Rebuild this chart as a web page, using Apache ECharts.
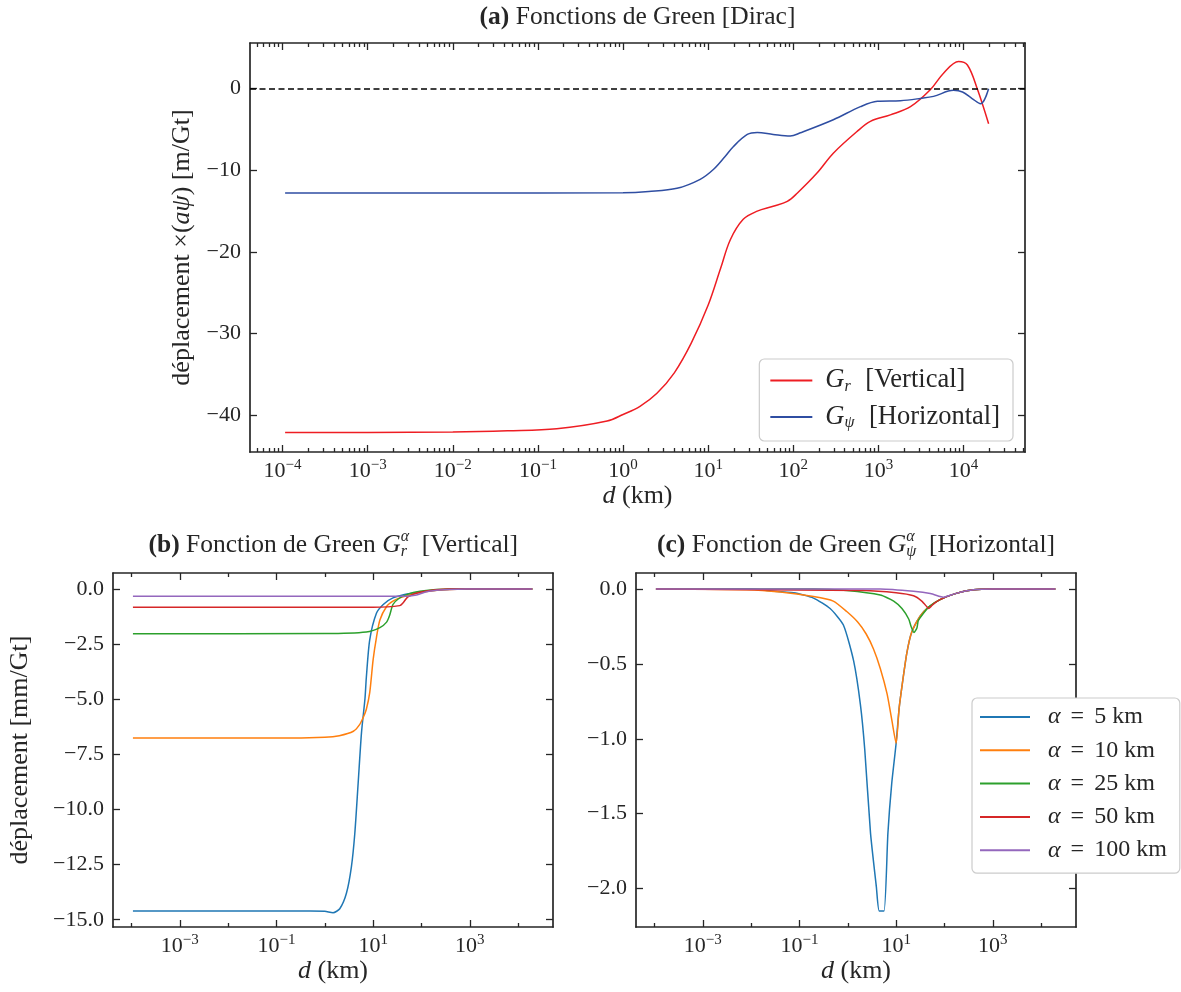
<!DOCTYPE html>
<html><head><meta charset="utf-8">
<script src="https://cdn.jsdelivr.net/npm/echarts@6/dist/echarts.min.js"></script>
<style>html,body{margin:0;padding:0;background:#fff}#c{width:1181px;height:992px}</style>
</head><body><div id="c"></div>
<script>
// ---------- DATA ----------
// Panel (a): Dirac Green functions, d in km
const aRedD  = [1.07e-4, 1e-3, 1e-2, 0.044, 0.166, 0.65, 1.0, 1.58, 2.5, 4.0, 6.3, 10, 14, 18.2, 25.8, 37.7, 58, 85, 111, 191, 295, 566, 805, 1380, 2380, 4090, 5820, 8730, 11100, 14600, 19700];
const aRedV  = [-42.1, -42.1, -42.05, -41.9, -41.65, -40.7, -39.9, -38.9, -37.3, -34.8, -31.2, -26.5, -22, -18.5, -16, -15.0, -14.4, -13.8, -12.8, -10.3, -7.9, -5.2, -4.0, -3.2, -2.2, -0.1, 1.9, 3.34, 2.9, -0.1, -4.3];
const aBlueD = [1.07e-4, 1e-2, 1, 2, 4.3, 8.05, 11.5, 15.8, 19.7, 28.8, 37.7, 58, 92, 121, 295, 614, 973, 1815, 3120, 4440, 7620, 9730, 12600, 15850, 19700];
const aBlueV = [-12.78, -12.78, -12.75, -12.6, -12.2, -11.1, -9.9, -8.3, -7.1, -5.6, -5.35, -5.6, -5.8, -5.4, -3.8, -2.2, -1.55, -1.47, -1.19, -0.94, -0.2, -0.4, -1.2, -1.84, 0];

// Panel (b): G_r^alpha
const b5D   = [1.07e-4, 1e-2, 0.5, 1.0, 1.48, 2.04, 2.8, 3.55, 4.17, 4.9, 5.75, 6.76, 7.24, 8.5, 11.7, 16.2, 25.7, 57.5, 174, 851, 19700];
const b5V   = [-14.6, -14.6, -14.6, -14.62, -14.68, -14.5, -13.8, -12.6, -11.1, -8.8, -6.5, -5.0, -4.0, -2.3, -1.1, -0.7, -0.4, -0.2, -0.06, 0, 0];
const b10D  = [1.07e-4, 0.1, 1, 2, 3.9, 5.25, 6.3, 7.24, 8.5, 10, 11.7, 13.8, 19, 25.7, 35.5, 93, 316, 1000, 19700];
const b10V  = [-6.76, -6.76, -6.72, -6.65, -6.45, -6.15, -5.8, -5.45, -4.7, -3.2, -2.2, -1.4, -0.79, -0.55, -0.4, -0.15, -0.03, 0, 0];
const b25D  = [1.07e-4, 1, 7.24, 13.8, 19, 21.9, 25.7, 33, 49, 93, 389, 19700];
const b25V  = [-2.03, -2.02, -1.95, -1.75, -1.5, -1.2, -0.7, -0.45, -0.25, -0.1, 0, 0];
const b50D  = [1.07e-4, 10, 35.5, 41.7, 52.5, 93, 389, 19700];
const b50V  = [-0.82, -0.82, -0.75, -0.62, -0.35, -0.14, 0, 0];
const b100D = [1.07e-4, 50, 79, 117, 174, 389, 851, 19700];
const b100V = [-0.33, -0.32, -0.27, -0.14, -0.07, -0.02, 0, 0];

// Panel (c): G_psi^alpha
const c5D   = [1.07e-4, 0.01, 0.021, 0.076, 0.195, 0.43, 0.81, 1.32, 1.82, 2.24, 2.95, 3.9, 4.47, 5.62, 6.76, 8.1, 10, 11.5, 13.2, 16.6, 20.9, 31.6, 46.8, 81, 182, 398, 1000, 19700];
const c5V   = [0, 0, -0.01, -0.025, -0.06, -0.13, -0.24, -0.48, -0.77, -1.07, -1.63, -1.99, -2.15, -2.15, -1.63, -1.3, -1.03, -0.8, -0.65, -0.43, -0.29, -0.18, -0.12, -0.07, -0.027, -0.005, 0, 0];
const c10D  = [1.07e-4, 0.008, 0.04, 0.195, 0.5, 0.95, 1.6, 2.4, 3.4, 4.7, 6.5, 8.1, 10, 11.5, 13.2, 16.6, 20.9, 31.6, 46.8, 81, 182, 398, 1000, 19700];
const c10V  = [0, -0.005, -0.02, -0.05, -0.08, -0.15, -0.22, -0.3, -0.4, -0.53, -0.7, -0.87, -1.03, -0.8, -0.65, -0.43, -0.29, -0.18, -0.12, -0.07, -0.027, -0.005, 0, 0];
const c25D  = [1.07e-4, 0.2, 0.95, 4.7, 8.9, 13.2, 18.2, 20.4, 23.4, 26.9, 28.8, 37, 46.8, 81, 182, 398, 1000, 19700];
const c25V  = [0, 0, -0.01, -0.04, -0.08, -0.13, -0.2, -0.25, -0.29, -0.26, -0.21, -0.16, -0.12, -0.07, -0.027, -0.005, 0, 0];
const c50D  = [1.07e-4, 2.1, 10, 22.9, 33.9, 43.7, 46.8, 55, 64.6, 81, 182, 398, 1000, 19700];
const c50V  = [0, -0.01, -0.025, -0.045, -0.08, -0.12, -0.13, -0.11, -0.09, -0.07, -0.027, -0.005, 0, 0];
const c100D = [1.07e-4, 4.7, 22.9, 51, 81, 95.5, 120, 182, 398, 1000, 19700];
const c100V = [0, 0, -0.015, -0.03, -0.05, -0.055, -0.045, -0.027, -0.005, 0, 0];

// Tick values
const aMajorX = [1e-4, 1e-3, 1e-2, 1e-1, 1, 10, 100, 1e3, 1e4];
const bcMajorX = [1e-3, 1e-1, 10, 1e3];
const bcMinorX = [1e-4, 1e-2, 1, 100, 1e4];
const aYTicks = [0, -10, -20, -30, -40];
const bYTicks = [0, -2.5, -5, -7.5, -10, -12.5, -15];
const cYTicks = [0, -0.5, -1, -1.5, -2];

const alphaLabels = ['5', '10', '25', '50', '100'];
const tab10 = ['#1f77b4', '#ff7f0e', '#2ca02c', '#d62728', '#9467bd'];

// ---------- STYLE ----------
const FONT = '"Liberation Serif", "DejaVu Serif", serif';
const TXT = '#262626';
const SPINE = '#262626';
const FS = 22;      // tick labels
const FN = 26;      // axis names
const FT = 25.5;    // titles

// minor ticks for panel (a): 2..9 x 10^k (axis decoration only)
const aMinorX = [];
for (let k = -5; k <= 4; k++) for (let m = 2; m <= 9; m++) aMinorX.push(+(m + 'e' + k));

const X_MIN = Math.pow(10, -4.383);
const X_MAX = Math.pow(10, 4.722);

function zip(d, v) { return d.map((x, i) => [x, v[i]]); }
function expFmt(v) {
  const e = Math.round(Math.log10(v));
  return '{b|10}{s|' + (e < 0 ? '\u2212' + (-e) : '' + e) + '}';
}
const expRich = {
  b: { fontFamily: FONT, fontSize: FS, lineHeight: 26, color: TXT },
  s: { fontFamily: FONT, fontSize: 15, lineHeight: 15, verticalAlign: 'top', color: TXT }
};
const nameRich = {
  i: { fontFamily: FONT, fontSize: FN, fontStyle: 'italic', color: TXT }
};

function xAxisDef(grid, pos, major, ticks, showLabel, name, nameGap) {
  return {
    type: 'log', logBase: 10, gridIndex: grid, position: pos, min: X_MIN, max: X_MAX,
    axisLine: { show: major, onZero: false, lineStyle: { color: SPINE, width: 1.7 } },
    axisTick: { show: true, inside: true, length: major ? 7 : 4, customValues: ticks, lineStyle: { color: SPINE, width: 1.3 } },
    axisLabel: showLabel ? { show: true, customValues: ticks, formatter: expFmt, margin: 6, color: TXT, fontFamily: FONT, fontSize: FS, rich: expRich, showMinLabel: true, showMaxLabel: true } : { show: false },
    splitLine: { show: false }, minorTick: { show: false }, minorSplitLine: { show: false },
    name: name || '', nameLocation: 'middle', nameGap: nameGap || 30,
    nameTextStyle: { fontFamily: FONT, fontSize: FN, color: TXT, rich: nameRich }
  };
}
function yAxisDef(grid, pos, min, max, ticks, fmt, name, nameGap) {
  return {
    type: 'value', gridIndex: grid, position: pos, min: min, max: max,
    axisLine: { show: true, onZero: false, lineStyle: { color: SPINE, width: 1.7 } },
    axisTick: { show: true, inside: true, length: 7, customValues: ticks, lineStyle: { color: SPINE, width: 1.3 } },
    axisLabel: fmt ? { show: true, customValues: ticks, formatter: fmt, margin: 9, color: TXT, fontFamily: FONT, fontSize: FS } : { show: false },
    splitLine: { show: false },
    name: name || '', nameLocation: 'middle', nameGap: nameGap || 50, nameRotate: 90,
    nameTextStyle: { fontFamily: FONT, fontSize: FN, color: TXT, rich: nameRich }
  };
}
const minus = s => s.replace('-', '\u2212');
const fmtA = v => minus(String(v));
const fmtB = v => minus(v.toFixed(1));

function line(name, d, v, xi, yi, color, smooth) {
  return {
    type: 'line', name: name, xAxisIndex: xi, yAxisIndex: yi, data: zip(d, v),
    symbol: 'none', showSymbol: false, smooth: smooth, animation: false,
    lineStyle: { color: color, width: 1.5 }, itemStyle: { color: color }
  };
}

const series = [
  Object.assign(line('Gr', aRedD, aRedV, 0, 0, '#ee1d23', 0.35), {
    markLine: { silent: true, symbol: ['none', 'none'], label: { show: false },
      lineStyle: { color: '#000', type: [6, 3.5], width: 1.5 }, data: [{ yAxis: 0 }], animation: false }
  }),
  line('Gpsi', aBlueD, aBlueV, 0, 0, '#2f4ea2', 0.35)
];
const bSets = [[b5D, b5V], [b10D, b10V], [b25D, b25V], [b50D, b50V], [b100D, b100V]];
const cSets = [[c5D, c5V], [c10D, c10V], [c25D, c25V], [c50D, c50V], [c100D, c100V]];
bSets.forEach((s, i) => series.push(line('b' + alphaLabels[i], s[0], s[1], 4, 2, tab10[i], 0.25)));
cSets.forEach((s, i) => series.push(line('c' + alphaLabels[i], s[0], s[1], 8, 4, tab10[i], 0.2)));

function legendText(fl, padL, subPad) {
  return { fontFamily: FONT, fontSize: fl, color: TXT,
    rich: {
      ip: { fontFamily: FONT, fontSize: fl, fontStyle: 'italic', color: TXT, lineHeight: 28, padding: [0, 0, 0, padL] },
      sub: { fontFamily: FONT, fontSize: 16, fontStyle: 'italic', color: TXT, verticalAlign: 'bottom', lineHeight: 22, padding: [0, subPad, 0, 0] },
      eq: { fontFamily: FONT, fontSize: fl, color: TXT, lineHeight: 28, padding: [0, 10, 0, 10] },
      t: { fontFamily: FONT, fontSize: fl, color: TXT, lineHeight: 28 }
    } };
}

// ---- titles composed from measured pieces (sub/superscript stacked) ----
const mctx = document.createElement('canvas').getContext('2d');
function composeTitle(cx, cy, parts) {
  let x = 0, lastStart = 0;
  const items = parts.map(p => {
    const font = (p.st || 'normal') + ' ' + (p.w || 'normal') + ' ' + p.size + 'px ' + FONT;
    mctx.font = font;
    const w = mctx.measureText(p.t).width;
    let px;
    if (p.stack) { px = lastStart; x = Math.max(x, lastStart + w); }
    else { px = x; lastStart = px; x += w; }
    return { t: p.t, font: font, px: px, dy: p.dy || 0 };
  });
  const x0 = cx - x / 2;
  return items.map(it => ({ type: 'text', x: x0 + it.px, y: cy + it.dy, silent: true,
    style: { text: it.t, font: it.font, fill: TXT, align: 'left', verticalAlign: 'middle' } }));
}
const titles = [].concat(
  composeTitle(637.5, 17, [
    { t: '(a)', w: 'bold', size: FT }, { t: ' Fonctions de Green [Dirac]', size: FT }]),
  composeTitle(333.3, 545, [
    { t: '(b)', w: 'bold', size: FT }, { t: ' Fonction de Green ', size: FT },
    { t: 'G', st: 'italic', size: FT }, { t: '\u03b1', st: 'italic', size: 16, dy: -8 },
    { t: 'r', st: 'italic', size: 16, dy: 7, stack: true }, { t: '  [Vertical]', size: FT }]),
  composeTitle(856, 545, [
    { t: '(c)', w: 'bold', size: FT }, { t: ' Fonction de Green ', size: FT },
    { t: 'G', st: 'italic', size: FT }, { t: '\u03b1', st: 'italic', size: 16, dy: -8 },
    { t: '\u03c8', st: 'italic', size: 16, dy: 7, stack: true }, { t: '  [Horizontal]', size: FT }])
);

const option = {
  backgroundColor: '#ffffff',
  animation: false,
  grid: [
    { left: 250, right: 156, top: 43, bottom: 540, containLabel: false, outerBoundsMode: 'none' },
    { left: 113, right: 628, top: 573, bottom: 65, containLabel: false, outerBoundsMode: 'none' },
    { left: 636, right: 105, top: 573, bottom: 65, containLabel: false, outerBoundsMode: 'none' }
  ],
  xAxis: [
    xAxisDef(0, 'bottom', true, aMajorX, true, '{i|d} (km)', 27),
    xAxisDef(0, 'top', true, aMajorX, false),
    xAxisDef(0, 'bottom', false, aMinorX, false),
    xAxisDef(0, 'top', false, aMinorX, false),
    xAxisDef(1, 'bottom', true, bcMajorX, true, '{i|d} (km)', 28),
    xAxisDef(1, 'top', true, bcMajorX, false),
    xAxisDef(1, 'bottom', false, bcMinorX, false),
    xAxisDef(1, 'top', false, bcMinorX, false),
    xAxisDef(2, 'bottom', true, bcMajorX, true, '{i|d} (km)', 28),
    xAxisDef(2, 'top', true, bcMajorX, false),
    xAxisDef(2, 'bottom', false, bcMinorX, false),
    xAxisDef(2, 'top', false, bcMinorX, false)
  ],
  yAxis: [
    yAxisDef(0, 'left', -44.5, 5.6, aYTicks, fmtA, 'déplacement ×({i|aψ}) [m/Gt]', 55),
    yAxisDef(0, 'right', -44.5, 5.6, aYTicks, null),
    yAxisDef(1, 'left', -15.33, 0.73, bYTicks, fmtB, 'déplacement [mm/Gt]', 80),
    yAxisDef(1, 'right', -15.33, 0.73, bYTicks, null),
    yAxisDef(2, 'left', -2.2575, 0.1075, cYTicks, fmtB),
    yAxisDef(2, 'right', -2.2575, 0.1075, cYTicks, null)
  ],
  legend: [
    { data: ['Gr', 'Gpsi'], orient: 'vertical', right: 168, top: 359, icon: 'rect', itemWidth: 42, itemHeight: 2, itemGap: 9,
      padding: [8, 13, 10, 11], backgroundColor: '#ffffff', borderColor: '#cccccc', borderWidth: 1.2, borderRadius: 5,
      selectedMode: false, textStyle: legendText(26.5, 8, 8),
      formatter: n => n === 'Gr' ? '{ip|G}{sub|r}{t| [Vertical]}' : '{ip|G}{sub|ψ}{t| [Horizontal]}' },
    { data: alphaLabels.map(a => 'c' + a), orient: 'vertical', left: 972, top: 698, icon: 'rect', itemWidth: 50, itemHeight: 2, itemGap: 9.3,
      padding: [7, 13, 11, 8], backgroundColor: '#ffffff', borderColor: '#cccccc', borderWidth: 1.2, borderRadius: 5,
      selectedMode: false, textStyle: legendText(24, 13, 6),
      formatter: n => '{ip|α}{eq|=}{t|' + n.slice(1) + ' km}' }
  ],
  graphic: titles,
  series: series
};

const chart = echarts.init(document.getElementById('c'), null, { renderer: 'canvas', width: 1181, height: 992 });
chart.setOption(option);
</script>
</body></html>
